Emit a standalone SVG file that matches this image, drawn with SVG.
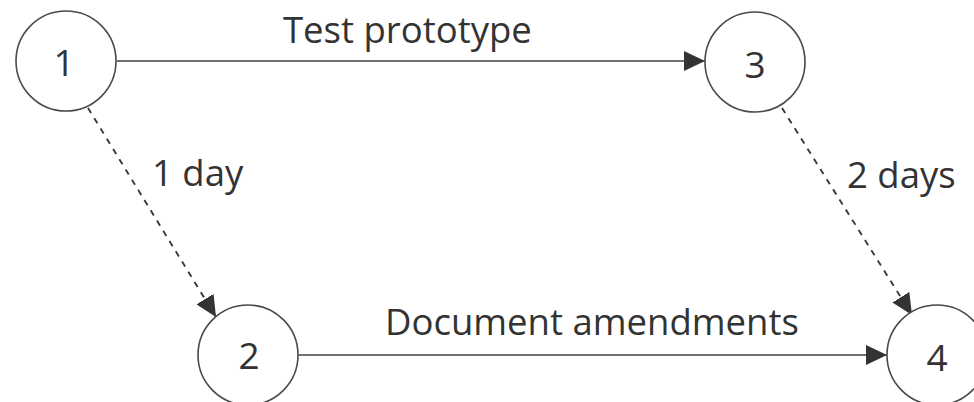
<svg xmlns="http://www.w3.org/2000/svg" width="974" height="402" viewBox="0 0 974 402">
  <style>
    .node circle { fill: #ffffff; stroke: #4a4a4a; stroke-width: 1.6; }
    .num { font-family: "Open Sans", "Noto Sans", sans-serif; font-size: 37px; fill: #333333; text-anchor: middle; dominant-baseline: central; }
    .label { font-family: "Open Sans", "Noto Sans", sans-serif; font-size: 36.5px; fill: #333333; }
    .edge { stroke: #404040; stroke-width: 1.6; fill: none; }
    .dashed { stroke-dasharray: 6 6; stroke-width: 1.9; stroke: #3a3a3a; }
  </style>
  <defs>
    <marker id="arrow" markerUnits="userSpaceOnUse" markerWidth="22" markerHeight="20" refX="21" refY="10" orient="auto">
      <path d="M0,0 L21,10 L0,20 Z" fill="#333333"/>
    </marker>
  </defs>
  <rect width="974" height="402" fill="#ffffff"/>

  <g id="connectors">
    <line class="edge" x1="117" y1="61" x2="705" y2="61" marker-end="url(#arrow)"/>
    <line class="edge" x1="298" y1="355" x2="887" y2="355" marker-end="url(#arrow)"/>
    <line class="edge dashed" x1="88" y1="108" x2="216" y2="317" marker-end="url(#arrow)"/>
    <line class="edge dashed" x1="782" y1="108" x2="912" y2="315" marker-end="url(#arrow)"/>
    <text class="label" x="283" y="43">Test prototype</text>
    <text class="label" x="152" y="186">1 day</text>
    <text class="label" x="847" y="188">2 days</text>
    <text class="label" x="385" y="335">Document amendments</text>
  </g>

  <g id="node-1" class="node">
    <circle cx="66" cy="61" r="50"/>
    <text class="num" x="64" y="61">1</text>
  </g>
  <g id="node-2" class="node">
    <circle cx="248" cy="355" r="50"/>
    <text class="num" x="249" y="354">2</text>
  </g>
  <g id="node-3" class="node">
    <circle cx="755" cy="62" r="50"/>
    <text class="num" x="755" y="63">3</text>
  </g>
  <g id="node-4" class="node">
    <circle cx="937" cy="355" r="50"/>
    <text class="num" x="937" y="356">4</text>
  </g>
</svg>
